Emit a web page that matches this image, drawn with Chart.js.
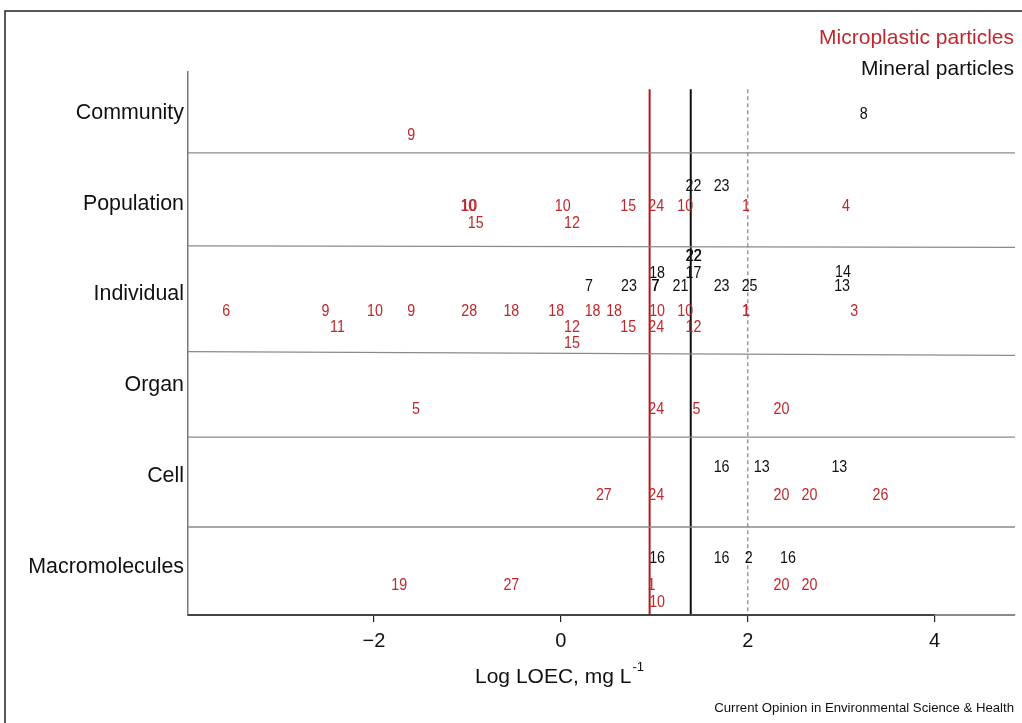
<!DOCTYPE html>
<html>
<head>
<meta charset="utf-8">
<script src="https://cdn.jsdelivr.net/npm/chart.js@4.4.1/dist/chart.umd.min.js"></script>
<style>
  html, body { margin: 0; padding: 0; background: #fff; }
  #wrap { width: 1022px; height: 723px; position: relative; }
</style>
</head>
<body>
<div id="wrap"><canvas id="chart"></canvas></div>
<script>
// rows, bottom to top (y = 1..6)
var levels = ['Macromolecules', 'Cell', 'Organ', 'Individual', 'Population', 'Community'];
var xTicks = [-2, 0, 2, 4];

// microplastic particles (red): log LOEC, row position, study number
var mpX = [-1.60,
  -0.98, -0.99, 0.02, 0.72, 1.02, 1.33, 1.98, 3.05, -0.91, 0.12,
  -3.58, -2.52, -1.99, -1.60, -0.98, -0.53, -0.05, 0.34, 0.57, 1.03, 1.33, 1.98, 1.985, 3.14,
  -2.39, 0.12, 0.72, 1.02, 1.42, 0.12,
  -1.55, 1.02, 1.45, 2.36,
  0.46, 1.02, 2.36, 2.66, 3.42,
  -1.73, -0.53, 0.97, 2.36, 2.66, 1.03];
var mpY = [5.77,
  4.99, 4.99, 4.99, 4.99, 4.99, 4.99, 4.99, 4.99, 4.80, 4.80,
  3.83, 3.83, 3.83, 3.83, 3.83, 3.83, 3.83, 3.83, 3.83, 3.83, 3.83, 3.83, 3.83, 3.83,
  3.65, 3.65, 3.65, 3.65, 3.65, 3.48,
  2.75, 2.75, 2.75, 2.75,
  1.80, 1.80, 1.80, 1.80, 1.80,
  0.81, 0.81, 0.81, 0.81, 0.81, 0.63];
var mpRef = ['9',
  '10', '10', '10', '15', '24', '10', '1', '4', '15', '12',
  '6', '9', '10', '9', '28', '18', '18', '18', '18', '10', '10', '1', '1', '3',
  '11', '12', '15', '24', '12', '15',
  '5', '24', '5', '20',
  '27', '24', '20', '20', '26',
  '19', '27', '1', '20', '20', '10'];

// mineral particles (black)
var minX = [3.24,
  1.42, 1.72,
  1.42, 1.425, 1.03, 1.42, 3.02, 0.30, 0.73, 1.01, 1.015, 1.28, 1.72, 2.02, 3.01,
  1.72, 2.15, 2.98,
  1.03, 1.72, 2.01, 2.43];
var minY = [6.00,
  5.21, 5.21,
  4.44, 4.44, 4.25, 4.25, 4.26, 4.11, 4.11, 4.11, 4.11, 4.11, 4.11, 4.11, 4.11,
  2.11, 2.11, 2.11,
  1.11, 1.11, 1.11, 1.11];
var minRef = ['8',
  '22', '23',
  '22', '22', '18', '17', '14', '7', '23', '7', '7', '21', '23', '25', '13',
  '16', '13', '13',
  '16', '16', '2', '16'];

var mpLine = 0.95;      // red vertical
var minLine = 1.39;     // black vertical
var refLine = 2.0;      // dashed grey
var vLineTop = 6.26;
// separators between rows: [left, right]
var sepLeft  = [5.56, 4.535, 3.37, 2.43, 1.44];
var sepRight = [5.56, 4.52, 3.33, 2.43, 1.44];

var xMin = -3.99, xMax = 4.86, yMin = 0.471, yMax = 6.45;

var RED = '#c0272d';
var RED_LINE = '#b0191e';
var SANS = "'Liberation Sans', Arial, sans-serif";

function pts(xs, ys) {
  return xs.map(function (x, i) { return { x: x, y: ys[i] }; });
}

var datasets = [];
sepLeft.forEach(function (v, i) {
  datasets.push({
    data: [{ x: xMin, y: v }, { x: xMax, y: sepRight[i] }],
    showLine: true, borderColor: '#8a8a8a', borderWidth: 1.3, pointRadius: 0
  });
});
datasets.push({
  data: [{ x: refLine, y: vLineTop }, { x: refLine, y: yMin }],
  showLine: true, borderColor: '#9a9a9a', borderWidth: 1.5, borderDash: [4, 3], pointRadius: 0
});
datasets.push({
  data: [{ x: mpLine, y: vLineTop }, { x: mpLine, y: yMin }],
  showLine: true, borderColor: RED_LINE, borderWidth: 2, pointRadius: 0
});
datasets.push({
  data: [{ x: minLine, y: vLineTop }, { x: minLine, y: yMin }],
  showLine: true, borderColor: '#111', borderWidth: 2, pointRadius: 0
});
datasets.push({ data: pts(mpX, mpY), refs: mpRef, textColor: RED, pointRadius: 0 });
datasets.push({ data: pts(minX, minY), refs: minRef, textColor: '#111', pointRadius: 0 });

var textPlugin = {
  id: 'refText',
  afterDatasetsDraw: function (chart) {
    var ctx = chart.ctx;
    chart.data.datasets.forEach(function (ds, i) {
      if (!ds.refs) return;
      chart.getDatasetMeta(i).data.forEach(function (el, j) {
        ctx.save();
        ctx.font = '17px ' + SANS;
        ctx.textAlign = 'center';
        ctx.textBaseline = 'alphabetic';
        ctx.fillStyle = ds.textColor;
        ctx.translate(el.x, el.y + 6);
        ctx.scale(0.84, 1);
        ctx.fillText(ds.refs[j], 0, 0);
        ctx.restore();
      });
    });
  },
  afterDraw: function (chart) {
    var ctx = chart.ctx, xs = chart.scales.x, area = chart.chartArea;
    ctx.save();
    // darker part of the x axis
    ctx.strokeStyle = '#444';
    ctx.lineWidth = 2;
    ctx.beginPath();
    ctx.moveTo(area.left, area.bottom);
    ctx.lineTo(xs.getPixelForValue(xTicks[xTicks.length - 1]), area.bottom);
    ctx.stroke();
    // outer frame
    ctx.strokeStyle = '#222';
    ctx.lineWidth = 1.5;
    ctx.beginPath();
    ctx.moveTo(5, 723);
    ctx.lineTo(5, 11);
    ctx.lineTo(1022, 11);
    ctx.stroke();
    // legend
    ctx.textAlign = 'right';
    ctx.textBaseline = 'middle';
    ctx.font = '21px ' + SANS;
    ctx.fillStyle = RED;
    ctx.fillText('Microplastic particles', 1014, 38);
    ctx.fillStyle = '#111';
    ctx.fillText('Mineral particles', 1014, 69);
    // axis title with superscript
    var main = 'Log LOEC, mg L', sup = '-1';
    ctx.font = '21px ' + SANS;
    var w1 = ctx.measureText(main).width;
    ctx.font = '13px ' + SANS;
    var w2 = ctx.measureText(sup).width;
    var x0 = 559 - (w1 + w2) / 2;
    ctx.textAlign = 'left';
    ctx.font = '21px ' + SANS;
    ctx.fillText(main, x0, 677);
    ctx.font = '13px ' + SANS;
    ctx.fillText(sup, x0 + w1 + 1, 667);
    // source
    ctx.textAlign = 'right';
    ctx.font = '13.2px ' + SANS;
    ctx.fillText('Current Opinion in Environmental Science & Health', 1014, 708);
    ctx.restore();
  }
};

new Chart(document.getElementById('chart'), {
  type: 'scatter',
  data: { datasets: datasets },
  plugins: [textPlugin],
  options: {
    responsive: true,
    maintainAspectRatio: false,
    animation: false,
    layout: { padding: { left: 0, right: 7, top: 72, bottom: 0 } },
    plugins: { legend: { display: false }, tooltip: { enabled: false } },
    scales: {
      x: {
        type: 'linear', min: xMin, max: xMax,
        afterBuildTicks: function (s) { s.ticks = xTicks.map(function (v) { return { value: v }; }); },
        ticks: {
          autoSkip: false, maxRotation: 0, padding: 7, color: '#111',
          font: { family: SANS, size: 20 },
          callback: function (v) { return v < 0 ? '\u2212' + Math.abs(v) : String(v); }
        },
        grid: { drawOnChartArea: false, tickLength: 7, color: '#222', lineWidth: 1.2 },
        border: { color: '#8a8a8a', width: 2 },
        afterFit: function (s) { s.height = 108; }
      },
      y: {
        type: 'linear', min: yMin, max: yMax,
        afterBuildTicks: function (s) { s.ticks = levels.map(function (l, i) { return { value: i + 1 }; }); },
        ticks: {
          autoSkip: false, padding: 4, color: '#111',
          font: { family: SANS, size: 21.4 },
          callback: function (v) { return levels[Math.round(v) - 1]; }
        },
        grid: { display: false, drawTicks: false },
        border: { color: '#777', width: 1.5 },
        afterFit: function (s) { s.width = 188; }
      }
    }
  }
});
</script>
</body>
</html>
